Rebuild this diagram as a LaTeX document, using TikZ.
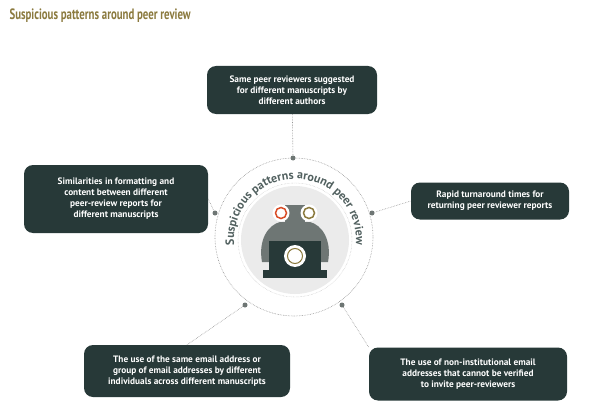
\documentclass[tikz,border=0pt]{standalone}
\usepackage{fontspec}
\setmainfont{PT Sans}
\usetikzlibrary{decorations.text}
\definecolor{boxdark}{RGB}{39,57,56}
\definecolor{olive}{RGB}{139,122,62}
\definecolor{ringgrey}{RGB}{150,150,150}
\definecolor{iconsgrey}{RGB}{110,118,116}
\tikzset{
  card/.style={fill=boxdark, rounded corners=9pt, text=white, align=center, font=\bfseries\fontsize{9.3}{11}\selectfont, inner sep=4pt},
  link/.style={draw=ringgrey, densely dotted, line width=0.6pt},
  hub/.style={circle, fill=iconsgrey, inner sep=0pt, minimum size=5pt}
}
\begin{document}
\begin{tikzpicture}[x=1pt,y=1pt,yscale=-1]
    \useasboundingbox (0,0) rectangle (600,420);
    \fill[white] (0,0) rectangle (600,420);

    \node[anchor=west, text=olive, font=\bfseries\fontsize{15}{17}\selectfont] (title) at (6,16) {\scalebox{0.72}[1]{Suspicious patterns around peer review}};

    % ring and icon
    \draw[ringgrey, densely dotted, line width=0.6pt] (294,237) circle (79);
    \draw[ringgrey!70, densely dotted] (295,240) circle (57);
    \fill[black!8] (295,240) circle (54);
    \fill[iconsgrey] (262,262) .. controls (258,240) and (268,225) .. (280,222) -- (310,222) .. controls (322,225) and (332,240) .. (328,262) -- cycle;
    \fill[iconsgrey] (285,205) rectangle (305,228);
    \fill[white] (281,213) circle (8.5); \fill[white] (309,213) circle (8.5);
    \draw[red!40!brown, line width=1.5pt] (281,213) circle (5.5);
    \draw[olive, line width=1.5pt] (309,213) circle (5.5);
    \fill[boxdark] (269,241) rectangle (321,275);
    \fill[boxdark] (263,270) rectangle (327,278);
    \fill[white] (295,256) circle (11);
    \draw[olive, line width=1pt] (295,256) circle (7.5);
    \path[decorate, decoration={text along path, text align=center, text={|\bfseries\fontsize{12}{13}\selectfont\color{boxdark!80}|Suspicious patterns around peer review}}]
      (295,240) ++(155:61) arc[start angle=155, end angle=385, radius=61];

    \node[hub] (ptop) at (293,158) {};
    \node[hub] (pleft) at (215,213) {};
    \node[hub] (pright) at (372,213) {};
    \node[hub] (pbl) at (245,305) {};
    \node[hub] (pbr) at (342,305) {};

    % cards
    \node[card, minimum width=170pt, minimum height=48pt] (same) at (292,90) {Same peer reviewers suggested\\for different manuscripts by\\different authors};
    \node[card, minimum width=184pt, minimum height=68pt] (format) at (116,199) {Similarities in formatting and\\content between different\\peer-review reports for\\different manuscripts};
    \node[card, minimum width=158pt, minimum height=37pt] (rapid) at (490,201) {Rapid turnaround times for\\returning peer reviewer reports};
    \node[card, minimum width=206pt, minimum height=52pt] (email) at (187,371) {The use of the same email address or\\group of email addresses by different\\individuals across different manuscripts};
    \node[card, minimum width=198pt, minimum height=53pt] (noninst) at (468,374) {The use of non-institutional email\\addresses that cannot be verified\\to invite peer-reviewers};

    \draw[link] (same) -- (ptop);
    \draw[link] (format.east) -- (pleft);
    \draw[link] (pright) -- (rapid.west);
    \draw[link] (pbl) -- (email.north);
    \draw[link] (pbr) -- (noninst.north west);
\end{tikzpicture}
\end{document}
